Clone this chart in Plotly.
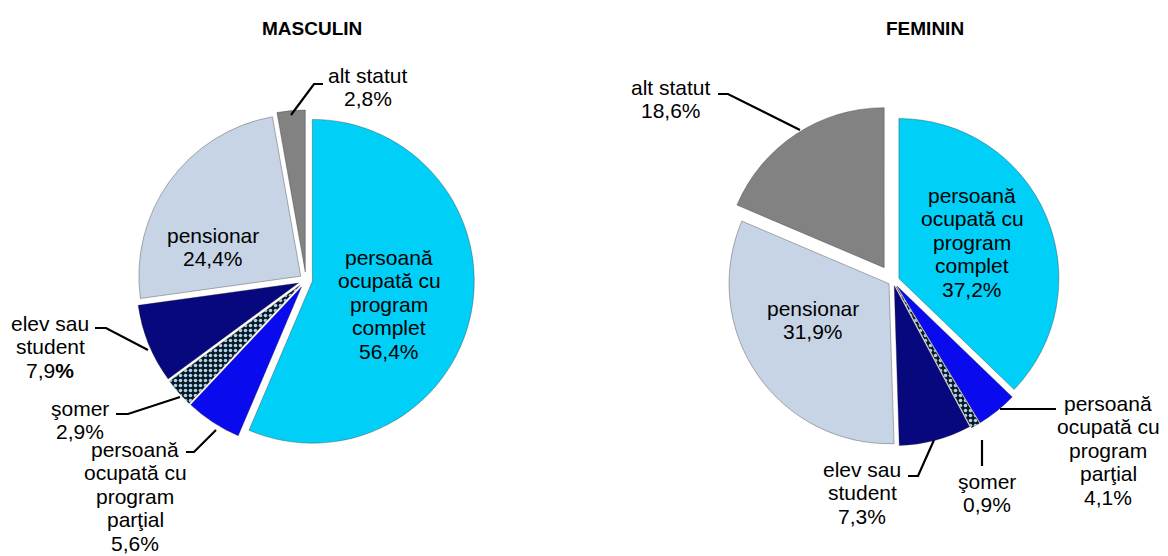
import plotly.graph_objects as go

W, H = 1168, 556
OFF = 8  # page body margin: the figure is drawn 8px right/down of the window corner

# ---- data ----
categories = [
    "persoană ocupată cu program complet",
    "persoană ocupată cu program parţial",
    "şomer",
    "elev sau student",
    "pensionar",
    "alt statut",
]
label_lines = [
    ["persoană", "ocupată cu", "program", "complet"],
    ["persoană", "ocupată cu", "program", "parţial"],
    ["şomer"],
    ["elev sau", "student"],
    ["pensionar"],
    ["alt statut"],
]
masculin_values = [56.4, 5.6, 2.9, 7.9, 24.4, 2.8]
feminin_values = [37.2, 4.1, 0.9, 7.3, 31.9, 18.6]
panel_titles = ["MASCULIN", "FEMININ"]

# ---- styles ----
colors = ["#00CFF8", "#0A0AEE", "#0E1620", "#08087E", "#C6D4E6", "#828282"]
pattern_shapes = ["", "", ".", "", "", ""]
FONT = "Arial, Liberation Sans, sans-serif"
FS = 21
LINE_H = 23.5

def px(x, y):
    """screen pixel -> paper coords"""
    return (x - OFF) / W, 1 - (y - OFF) / H

def dom(cx, cy, size):
    x0, y1 = px(cx - size / 2, cy - size / 2)
    x1, y0 = px(cx + size / 2, cy + size / 2)
    return dict(x=[x0, x1], y=[y0, y1])

def fmt(v):
    return f"{v:.1f}".replace(".", ",") + "%"

fig = go.Figure()

pie_common = dict(
    labels=categories,
    sort=False,
    direction="clockwise",
    rotation=0,
    textinfo="none",
    hoverinfo="label+value",
    showlegend=False,
)

def marker():
    return dict(colors=colors, line=dict(color="rgba(40,40,40,0.35)", width=1),
                pattern=dict(shape=pattern_shapes, fgcolor="#A6D6F2",
                             bgcolor=colors, size=5, solidity=0.4))

fig.add_trace(go.Pie(
    values=masculin_values,
    pull=[0.04, 0.05, 0.05, 0.05, 0.04, 0.05],
    marker=marker(),
    domain=dom(306, 280, 340),
    **pie_common,
))
fig.add_trace(go.Pie(
    values=feminin_values,
    pull=[0.04, 0.04, 0.04, 0.03, 0.03, 0.1],
    marker=marker(),
    domain=dom(893, 281, 352),
    **pie_common,
))

annotations = []
# titles
for t, (x, y) in zip(panel_titles, [(312, 28), (925, 28)]):
    ax, ay = px(x, y)
    annotations.append(dict(x=ax, y=ay, xref="paper", yref="paper", text=f"<b>{t}</b>",
                            showarrow=False, xanchor="center", yanchor="middle",
                            font=dict(family=FONT, size=19, color="black")))

# labels: (panel, category index, x center, y of first line)
label_pos = [
    ("m", 0, 389, 257),
    ("m", 4, 213, 235),
    ("m", 5, 368, 75),
    ("m", 3, 50, 323),
    ("m", 2, 80, 408),
    ("m", 1, 135, 449),
    ("f", 0, 972, 195),
    ("f", 4, 813, 308),
    ("f", 5, 671, 87),
    ("f", 3, 862, 469),
    ("f", 2, 987, 481),
    ("f", 1, 1108, 403),
]
for panel, i, x, y0 in label_pos:
    vals = masculin_values if panel == "m" else feminin_values
    pct = fmt(vals[i])
    if panel == "m" and i == 3:
        pct = pct[:-1] + "<b>%</b>"
    lines = label_lines[i] + [pct]
    for k, line in enumerate(lines):
        ax, ay = px(x, y0 + k * LINE_H)
        annotations.append(dict(x=ax, y=ay, xref="paper", yref="paper", text=line,
                                showarrow=False, xanchor="center", yanchor="middle",
                                font=dict(family=FONT, size=FS, color="black")))

# leader lines (screen pixel polylines)
leaders = [
    [(323, 84), (314, 84), (291, 115)],
    [(95, 328), (106, 328), (148, 350)],
    [(116, 414), (128, 414), (180, 397)],
    [(186, 452), (194, 452), (216, 430)],
    [(718, 94), (728, 94), (800, 130)],
    [(908, 476), (918, 476), (934, 440)],
    [(982, 466), (982, 440)],
    [(1056, 409), (1000, 409)],
]
shapes = []
for pts in leaders:
    path = ""
    for k, (x, y) in enumerate(pts):
        a, b = px(x, y)
        path += ("M" if k == 0 else "L") + f"{a:.5f},{b:.5f} "
    shapes.append(dict(type="path", path=path.strip(), xref="paper", yref="paper",
                       line=dict(color="black", width=2.2)))

fig.update_layout(
    width=W, height=H,
    margin=dict(l=0, r=0, t=0, b=0),
    paper_bgcolor="white",
    plot_bgcolor="white",
    separators=",.",
    annotations=annotations,
    shapes=shapes,
    font=dict(family=FONT, size=FS, color="black"),
)

fig.write_html("out.html")
